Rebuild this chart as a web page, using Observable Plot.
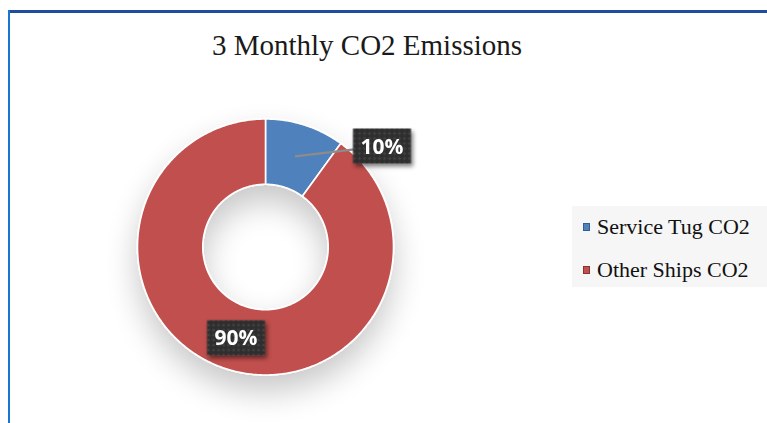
<!DOCTYPE html>
<html>
<head>
<meta charset="utf-8">
<script src="https://cdn.jsdelivr.net/npm/d3@7"></script>
<script src="https://cdn.jsdelivr.net/npm/@observablehq/plot@0.6"></script>
<style>
  html, body { margin: 0; padding: 0; background: #fff; }
  #wrap { position: relative; width: 767px; height: 423px; overflow: hidden; }
  #frameTop { position: absolute; left: 8px; top: 10px; width: 759px; height: 3px; background: #1d4d9c; }
  #frameLeft { position: absolute; left: 8px; top: 10px; width: 2px; height: 413px; background: #1b76d1; }
  #legend { position: absolute; left: 572px; top: 206px; width: 195px; height: 81px; background: #f6f6f6;
            font-family: "Liberation Serif", "Times New Roman", serif; font-size: 22px; color: #111; }
  .item { position: absolute; left: 11px; display: flex; align-items: center; white-space: nowrap; }
  .sw { width: 7px; height: 8px; margin-right: 7px; box-sizing: border-box; }
</style>
</head>
<body>
<div id="wrap">
  <div id="chart"></div>
  <div id="frameTop"></div>
  <div id="frameLeft"></div>
  <div id="legend"></div>
</div>
<script>
const title = "3 Monthly CO2 Emissions";
const categories = ["Service Tug CO2", "Other Ships CO2"];
const values = [10, 90];
const labels = ["10%", "90%"];
const colors = ["#4F81BD", "#C0504D"];
const swatchBorders = ["#2f5f99", "#8f302d"];

// geometry (styling)
const cx = 265, cy = 246.5, R = 128, innerRatio = 0.49;
const labelOffsets = [[0.68, 0.08], [0, 0]]; // in radius units

const data = categories.map((c, i) => ({cat: c, value: values[i], label: labels[i]}));
const arcs = d3.pie().sort(null).value(d => d.value)(data);

// polygon outline for each ring slice, sampled along its arcs
const ring = [];
arcs.forEach(a => {
  const n = Math.max(8, Math.ceil((a.endAngle - a.startAngle) / 0.01));
  for (let k = 0; k <= n; k++) {
    const t = a.startAngle + (a.endAngle - a.startAngle) * k / n;
    ring.push({cat: a.data.cat, x: Math.sin(t), y: Math.cos(t)});
  }
  for (let k = n; k >= 0; k--) {
    const t = a.startAngle + (a.endAngle - a.startAngle) * k / n;
    ring.push({cat: a.data.cat, x: innerRatio * Math.sin(t), y: innerRatio * Math.cos(t)});
  }
  ring.push({cat: a.data.cat, x: Math.sin(a.startAngle), y: Math.cos(a.startAngle)});
});

const mid = (1 + innerRatio) / 2;
const labelData = arcs.map((a, i) => {
  const m = (a.startAngle + a.endAngle) / 2;
  const x0 = mid * Math.sin(m), y0 = mid * Math.cos(m);
  return {cat: a.data.cat, label: a.data.label, x0, y0,
          x: x0 + labelOffsets[i][0], y: y0 + labelOffsets[i][1],
          leader: labelOffsets[i][0] !== 0 || labelOffsets[i][1] !== 0};
});

const boxSymbol = { draw(ctx) { ctx.rect(-29, -17.5, 58, 35); } };

const plot = Plot.plot({
  width: 767,
  height: 423,
  margin: 0,
  x: {type: "linear", domain: [-1, 1], range: [cx - R, cx + R], axis: null},
  y: {type: "linear", domain: [-1, 1], range: [cy + R, cy - R], axis: null},
  color: {domain: categories, range: colors},
  style: {background: "transparent"},
  marks: [
    Plot.line(ring, {x: "x", y: "y", z: "cat", fill: "cat", stroke: "white", strokeWidth: 1.6,
                     strokeLinejoin: "round", className: "slices"}),
    Plot.link(labelData.filter(d => d.leader), {x1: "x0", y1: "y0", x2: "x", y2: "y",
                     stroke: "#8c8c8c", strokeWidth: 2.2}),
    Plot.dot(labelData, {x: "x", y: "y", symbol: boxSymbol, r: 10, fill: "url(#boxdots)",
                     stroke: "none", className: "boxes"}),
    Plot.text(labelData, {x: "x", y: "y", text: "label", fill: "white", fontSize: 21,
                     fontWeight: "bold", fontFamily: "Open Sans, DejaVu Sans, sans-serif", dy: 1}),
    Plot.text([title], {frameAnchor: "top", dy: 34, dx: -17, text: d => d, fontSize: 29,
                     fontFamily: "Liberation Serif, Times New Roman, serif", fill: "#1a1a1a"})
  ]
});

// defs: dotted texture for label boxes and shadows
const ns = "http://www.w3.org/2000/svg";
const defs = document.createElementNS(ns, "defs");
defs.innerHTML = `
  <pattern id="boxdots" width="5" height="5" patternUnits="userSpaceOnUse">
    <rect width="5" height="5" fill="#2e2e2e"/>
    <circle cx="2.5" cy="2.5" r="0.9" fill="#5a5a5a"/>
  </pattern>
  <filter id="donutShadow" x="-40%" y="-40%" width="180%" height="190%">
    <feGaussianBlur in="SourceAlpha" stdDeviation="16"/>
    <feOffset dx="0" dy="16" result="b"/>
    <feComponentTransfer><feFuncA type="linear" slope="0.22"/></feComponentTransfer>
    <feMerge><feMergeNode/><feMergeNode in="SourceGraphic"/></feMerge>
  </filter>
  <filter id="boxShadow" x="-30%" y="-30%" width="170%" height="170%">
    <feGaussianBlur in="SourceAlpha" stdDeviation="2"/>
    <feOffset dx="2" dy="3"/>
    <feComponentTransfer><feFuncA type="linear" slope="0.5"/></feComponentTransfer>
    <feMerge><feMergeNode/><feMergeNode in="SourceGraphic"/></feMerge>
  </filter>`;
plot.insertBefore(defs, plot.firstChild);
const sl = plot.querySelector(".slices");
if (sl) sl.setAttribute("filter", "url(#donutShadow)");
const bx = plot.querySelector(".boxes");
if (bx) bx.setAttribute("filter", "url(#boxShadow)");

document.getElementById("chart").appendChild(plot);

// legend
const legend = document.getElementById("legend");
categories.forEach((c, i) => {
  const it = document.createElement("div");
  it.className = "item";
  it.style.top = (i === 0 ? 8 : 51) + "px";
  const sw = document.createElement("span");
  sw.className = "sw";
  sw.style.background = colors[i];
  sw.style.border = "1px solid " + swatchBorders[i];
  const tx = document.createElement("span");
  tx.textContent = c;
  it.appendChild(sw); it.appendChild(tx);
  legend.appendChild(it);
});
</script>
</body>
</html>
